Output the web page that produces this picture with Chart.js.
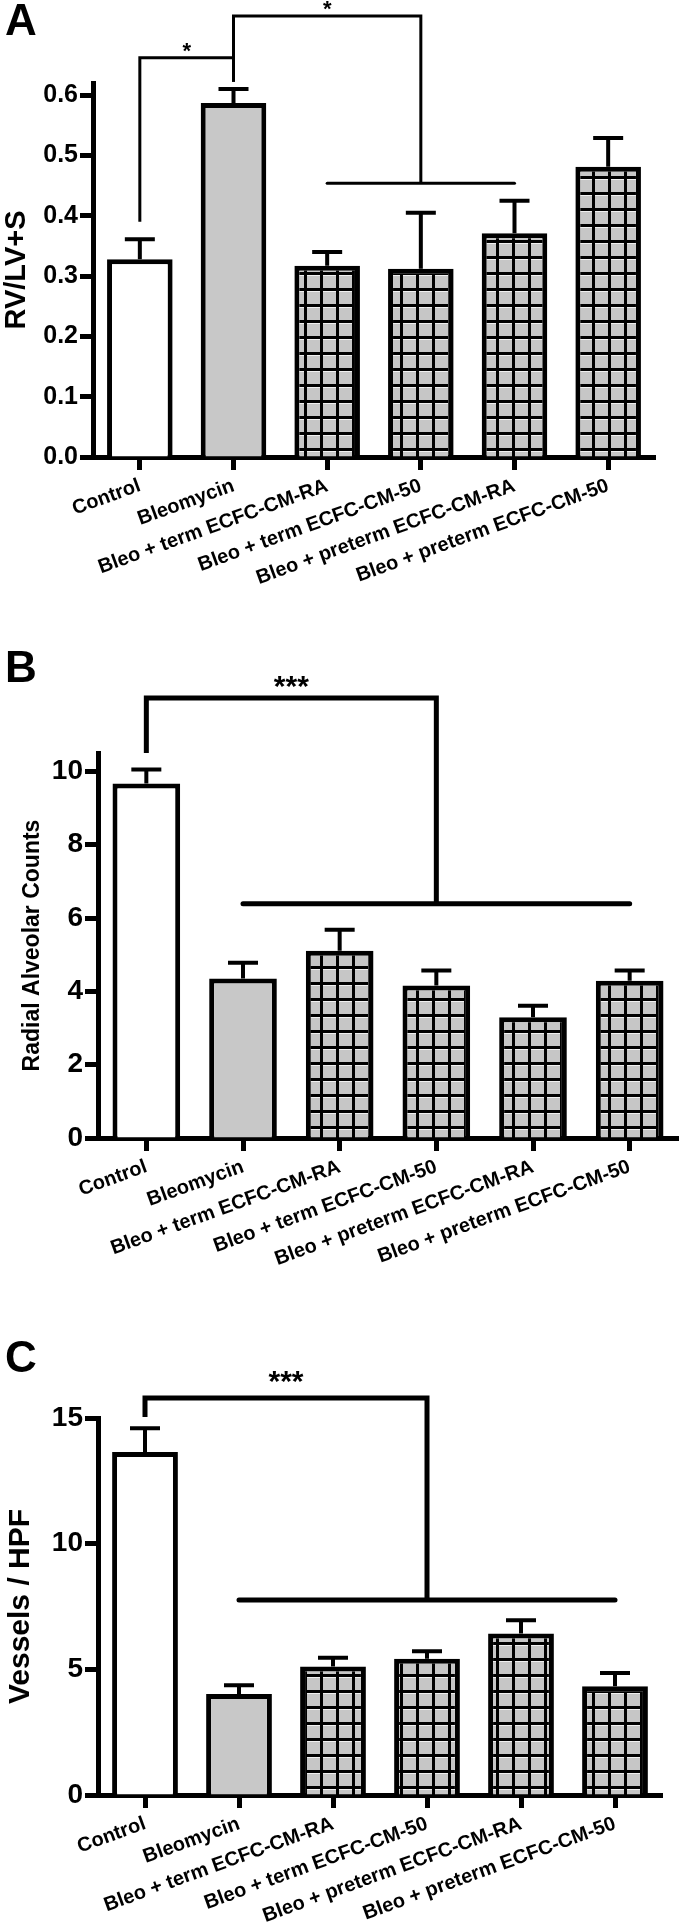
<!DOCTYPE html>
<html>
<head>
<meta charset="utf-8">
<script src="https://cdn.jsdelivr.net/npm/chart.js@4.4.1/dist/chart.umd.min.js"></script>
<style>
  body { margin: 0; background: #fff; }
  .panel { position: relative; width: 680px; }
</style>
</head>
<body>
<div class="panel" style="height:630px"><canvas id="chartA"></canvas></div>
<div class="panel" style="height:660px"><canvas id="chartB"></canvas></div>
<div class="panel" style="height:635px"><canvas id="chartC"></canvas></div>
<script>
const groups = ['Control', 'Bleomycin', 'Bleo + term ECFC-CM-RA', 'Bleo + term ECFC-CM-50',
                'Bleo + preterm ECFC-CM-RA', 'Bleo + preterm ECFC-CM-50'];

// A: RV/LV+S (mean, SEM)
const rvMean = [0.328, 0.587, 0.317, 0.312, 0.371, 0.481];
const rvSem = [0.033, 0.023, 0.023, 0.093, 0.054, 0.048];

// B: radial alveolar counts
const racMean = [9.67, 4.35, 5.11, 4.16, 3.29, 4.29];
const racSem = [0.38, 0.43, 0.57, 0.41, 0.32, 0.28];

// C: vessels per HPF
const vesMean = [13.65, 4.02, 5.11, 5.42, 6.43, 4.33];
const vesSem = [0.94, 0.35, 0.35, 0.30, 0.52, 0.52];

// significance brackets (group index / axis units)
const rvSig = [
    { from: 0, to: 1, top: 0.662, fromLow: 0.39, toLow: 0.622, label: '*' },
    { from: 1, to: 3, top: 0.731, fromLow: 0.622, toLow: 0.454, spanFrom: 2, spanTo: 4, label: '*' }
];
const racSig = [
    { from: 0, to: 3, top: 12.0, fromLow: 10.5, toLow: 6.39, spanFrom: 1, spanTo: 5, label: '***' }
];
const vesSig = [
    { from: 0, to: 3, top: 15.8, fromLow: 15.04, toLow: 7.76, spanFrom: 1, spanTo: 5, label: '***' }
];

const FONT = '"Liberation Sans", Arial, Helvetica, sans-serif';

function gridPattern() {
    const c = document.createElement('canvas');
    c.width = 16; c.height = 16;
    const g = c.getContext('2d');
    g.fillStyle = '#c6c6c6';
    g.fillRect(0, 0, 16, 16);
    g.fillStyle = '#000';
    g.fillRect(0, 0, 16, 3);
    g.fillRect(0, 0, 3, 16);
    g.fillStyle = '#f0f0f0';
    g.fillRect(3, 3, 13, 1);
    return g.createPattern(c, 'repeat');
}

const pattern = gridPattern();
const fills = ['#ffffff', '#c8c8c8', pattern, pattern, pattern, pattern];

// error bars, brackets and panel letter
const annotPlugin = {
    id: 'annot',
    afterDatasetsDraw(chart, args, opts) {
        const ctx = chart.ctx;
        const x = chart.scales.x;
        const y = chart.scales.y;
        const means = chart.data.datasets[0].data;
        ctx.save();
        ctx.strokeStyle = '#000';
        ctx.fillStyle = '#000';

        ctx.lineWidth = opts.errWidth;
        opts.sem.forEach((s, i) => {
            const px = x.getPixelForValue(i);
            const base = y.getPixelForValue(means[i]);
            const top = y.getPixelForValue(means[i] + s);
            ctx.beginPath();
            ctx.moveTo(px, base);
            ctx.lineTo(px, top);
            ctx.moveTo(px - opts.cap / 2, top);
            ctx.lineTo(px + opts.cap / 2, top);
            ctx.stroke();
        });

        ctx.lineWidth = opts.sigWidth;
        opts.sig.forEach(b => {
            const x1 = x.getPixelForValue(b.from);
            const x2 = x.getPixelForValue(b.to);
            const yt = y.getPixelForValue(b.top);
            ctx.lineCap = 'butt';
            ctx.beginPath();
            ctx.moveTo(x1, y.getPixelForValue(b.fromLow));
            ctx.lineTo(x1, yt);
            ctx.lineTo(x2, yt);
            ctx.lineTo(x2, y.getPixelForValue(b.toLow));
            ctx.stroke();
            if (b.spanFrom !== undefined) {
                const ys = y.getPixelForValue(b.toLow);
                ctx.lineCap = 'round';
                ctx.beginPath();
                ctx.moveTo(x.getPixelForValue(b.spanFrom), ys);
                ctx.lineTo(x.getPixelForValue(b.spanTo), ys);
                ctx.stroke();
            }
            ctx.font = `bold ${opts.starSize}px ${FONT}`;
            ctx.textAlign = 'center';
            ctx.textBaseline = 'middle';
            ctx.fillText(b.label, (x1 + x2) / 2, yt - opts.starGap);
        });

        ctx.font = `bold 44px ${FONT}`;
        ctx.textAlign = 'left';
        ctx.textBaseline = 'alphabetic';
        ctx.fillText(opts.letter, 5, opts.letterY);
        ctx.restore();
    }
};

function makeChart(id, means, sems, sig, o) {
    return new Chart(document.getElementById(id), {
        type: 'bar',
        data: {
            labels: groups,
            datasets: [{
                data: means,
                backgroundColor: fills,
                borderColor: '#000',
                borderWidth: 5,
                borderSkipped: 'start',
                barPercentage: 0.7,
                categoryPercentage: 1
            }]
        },
        options: {
            responsive: true,
            maintainAspectRatio: false,
            animation: false,
            events: [],
            layout: { padding: { top: o.top, right: o.right, left: 0, bottom: 0 } },
            plugins: {
                legend: { display: false },
                tooltip: { enabled: false },
                annot: {
                    sem: sems, sig: sig, letter: o.letter, letterY: o.letterY,
                    errWidth: 4, cap: 30, sigWidth: o.sigWidth,
                    starSize: o.starSize, starGap: o.starGap
                }
            },
            scales: {
                x: {
                    grid: { drawOnChartArea: false, offset: false, tickLength: 13, tickWidth: 5, tickColor: '#000' },
                    border: { display: true, color: '#000', width: 5 },
                    ticks: {
                        autoSkip: false, minRotation: 20, maxRotation: 20,
                        color: '#000', padding: 4,
                        font: { family: FONT, size: 20, weight: 'bold' }
                    },
                    afterFit(s) {
                        s.height = o.bottom;
                        s.paddingLeft = 0;
                        s.paddingRight = 0;
                    }
                },
                y: {
                    min: 0,
                    max: o.max,
                    grid: { drawOnChartArea: false, tickLength: 13, tickWidth: 5, tickColor: '#000' },
                    border: { display: true, color: '#000', width: 5 },
                    ticks: {
                        stepSize: o.step, includeBounds: false, color: '#000', padding: 2,
                        font: { family: FONT, size: o.tickSize, weight: 'bold' },
                        callback: v => o.step < 1 ? v.toFixed(1) : String(v)
                    },
                    title: {
                        display: true, text: o.title, color: '#000',
                        padding: { top: o.titlePad, bottom: 0 },
                        font: { family: FONT, size: o.titleSize, weight: 'bold' }
                    },
                    afterFit(s) {
                        s.width = o.left;
                    }
                }
            }
        },
        plugins: [annotPlugin]
    });
}

makeChart('chartA', rvMean, rvSem, rvSig, {
    letter: 'A', letterY: 35, top: 83, bottom: 173, left: 93, right: 25,
    max: 0.62, step: 0.1, tickSize: 25, title: 'RV/LV+S', titleSize: 29, titlePad: 0,
    sigWidth: 3, starSize: 22, starGap: 6
});

makeChart('chartB', racMean, racSem, racSig, {
    letter: 'B', letterY: 52, top: 123, bottom: 152, left: 98, right: 2,
    max: 10.5, step: 2, tickSize: 28, title: 'Radial Alveolar Counts', titleSize: 23, titlePad: 19,
    sigWidth: 5, starSize: 30, starGap: 10
});

makeChart('chartC', vesMean, vesSem, vesSig, {
    letter: 'C', letterY: 82, top: 128, bottom: 130, left: 98, right: 18,
    max: 15, step: 5, tickSize: 28, title: 'Vessels / HPF', titleSize: 30, titlePad: 3,
    sigWidth: 5, starSize: 30, starGap: 15
});
</script>
</body>
</html>
